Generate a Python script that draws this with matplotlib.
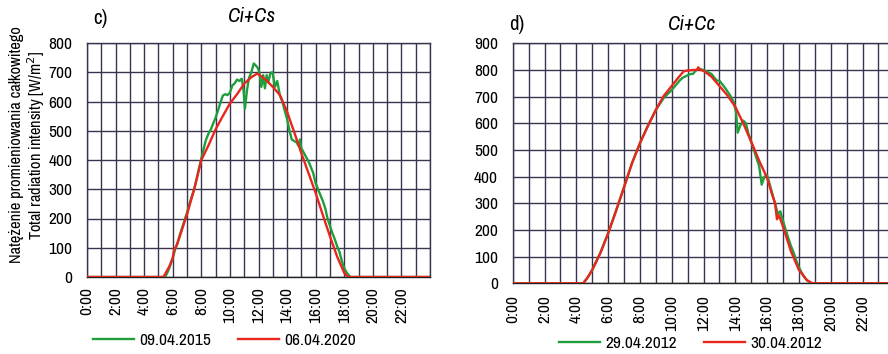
import matplotlib
matplotlib.use("Agg")
import matplotlib.pyplot as plt
from matplotlib import font_manager

# ---- data: total radiation intensity [W/m2] against time of day [h] ----
# panel c) Ci+Cs
c_title = "Ci+Cs"
c_label = "c)"
c_green_name = "09.04.2015"
c_green_t = [0.0, 5.47, 5.67, 5.83, 6.0, 6.17, 6.33, 6.5, 6.67, 6.83, 7.0, 7.17, 7.33, 7.5,
             7.67, 7.83, 8.0, 8.17, 8.33, 8.5, 8.67, 8.83, 9.0, 9.17, 9.33, 9.5, 9.67, 9.83,
             10.0, 10.17, 10.33, 10.5, 10.67, 10.83, 10.95, 11.05, 11.2, 11.33, 11.5, 11.67,
             11.83, 11.95, 12.05, 12.2, 12.33, 12.45, 12.57, 12.68, 12.84, 12.98, 13.15, 13.31,
             13.5, 13.67, 13.83, 14.0, 14.17, 14.33, 14.5, 14.67, 14.8, 14.9, 15.0, 15.17,
             15.33, 15.5, 15.67, 15.83, 16.0, 16.17, 16.33, 16.5, 16.67, 16.83, 17.0, 17.17,
             17.33, 17.5, 17.67, 17.83, 18.0, 18.17, 18.33, 18.45, 24.0]
c_green_v = [0, 0, 20, 40, 65, 95, 115, 145, 170, 195, 220, 250, 275, 300,
             335, 370, 405, 440, 470, 490, 505, 525, 545, 570, 595, 620, 625, 622,
             630, 655, 662, 675, 670, 678, 640, 575, 640, 680, 700, 730,
             722, 715, 700, 650, 690, 645, 690, 665, 698, 700, 650, 670,
             620, 600, 570, 540, 500, 470, 465, 460, 448, 470, 440, 425,
             410, 395, 375, 355, 320, 300, 280, 260, 235, 200, 175, 150,
             130, 105, 85, 55, 30, 15, 5, 0, 0]
c_red_name = "06.04.2020"
c_red_t = [0.0, 5.35, 5.75, 6.0, 6.1, 6.25, 6.5, 7.0, 7.5, 8.0, 8.5, 9.0, 9.5, 10.0, 10.5,
           11.0, 11.5, 11.9, 12.0, 12.5, 13.0, 13.5, 14.0, 14.5, 15.0, 15.5, 16.0, 16.5,
           17.0, 17.5, 18.0, 18.27, 24.0]
c_red_v = [0, 0, 35, 65, 95, 105, 140, 215, 300, 400, 450, 505, 550, 593, 625,
           661, 683, 695, 693, 675, 650, 622, 565, 495, 423, 355, 287, 212,
           139, 70, 14, 0, 0]

# panel d) Ci+Cc
d_title = "Ci+Cc"
d_label = "d)"
d_green_name = "29.04.2012"
d_green_t = [0.0, 4.44, 4.75, 5.0, 5.5, 6.0, 6.5, 7.0, 7.5, 8.0, 8.5, 9.0, 9.5, 10.0, 10.5,
             10.67, 10.83, 11.0, 11.17, 11.33, 11.5, 11.67, 12.0, 12.5, 12.83, 13.0, 13.33,
             13.67, 13.9, 14.05, 14.15, 14.3, 14.5, 14.67, 14.83, 15.0, 15.17, 15.33, 15.5,
             15.66, 15.83, 16.0, 16.17, 16.33, 16.5, 16.67, 16.83, 17.0, 17.17, 17.33, 17.5,
             17.67, 17.83, 18.0, 18.17, 18.33, 18.5, 18.67, 18.85, 24.0]
d_green_v = [0, 0, 25, 50, 112, 187, 272, 360, 450, 525, 590, 650, 695, 725, 760,
             770, 775, 780, 785, 785, 797, 805, 800, 785, 760, 760, 735,
             705, 680, 640, 565, 590, 610, 600, 560, 530, 500, 470, 440,
             370, 400, 405, 370, 335, 300, 260, 270, 235, 200, 170, 140,
             115, 85, 60, 40, 25, 12, 4, 0, 0]
d_red_name = "30.04.2012"
d_red_t = [0.0, 4.44, 4.75, 5.0, 5.5, 6.0, 6.5, 7.0, 7.5, 8.0, 8.5, 9.0, 9.5, 10.0, 10.4,
           10.75, 11.0, 11.33, 11.6, 11.67, 11.8, 12.0, 12.5, 13.0, 13.5, 14.0, 14.5,
           15.0, 15.5, 16.0, 16.33, 16.5, 16.62, 16.75, 17.0, 17.5, 18.0, 18.5, 18.85, 24.0]
d_red_v = [0, 0, 25, 50, 112, 187, 272, 360, 450, 525, 590, 650, 703, 740, 770,
           795, 798, 800, 800, 810, 800, 797, 775, 740, 705, 662, 600,
           531, 460, 395, 330, 300, 240, 255, 212, 120, 50, 12, 0, 0]

hour_ticks = list(range(0, 24, 2))
hour_labels = [f"{h}:00" for h in hour_ticks]

# ---- style ----
names = sorted({f.name for f in font_manager.fontManager.ttflist})
narrow = [n for n in names if "Narrow" in n or "Condensed" in n]
if narrow:
    base_font = narrow[0]
    FS, FS_Y, FS_T = 12.5, 11.8, 15
else:
    base_font = "Liberation Sans"
    FS, FS_Y, FS_T = 10, 9.6, 12.5
plt.rcParams["font.family"] = [base_font, "DejaVu Sans"]

GREEN = "#1e9e3c"
RED = "#e8261e"
GRID = "#3a3450"

W, H = 888, 354
fig = plt.figure(figsize=(W / 100, H / 100), dpi=100)


def setup(ax, ymax, xpad, ypad):
    ax.set_xlim(0, 24)
    ax.set_ylim(0, ymax)
    ax.set_yticks(range(0, ymax + 1, 100))
    ax.set_xticks(hour_ticks)
    ax.set_xticklabels(hour_labels, rotation=90, fontsize=FS)
    ax.set_xticks(range(0, 25), minor=True)
    ax.grid(True, which="major", color=GRID, linewidth=1.0)
    ax.grid(True, which="minor", axis="x", color=GRID, linewidth=1.0)
    ax.set_axisbelow(True)
    ax.tick_params(axis="both", which="both", length=0, labelsize=FS)
    ax.tick_params(axis="x", pad=xpad)
    ax.tick_params(axis="y", pad=ypad)
    for s in ax.spines.values():
        s.set_color(GRID)
        s.set_linewidth(1.0)
    ax.spines["bottom"].set_color("#222222")


fs_px = FS * 100 / 72
legend_kw = dict(loc="center", ncol=2, frameon=False, fontsize=FS,
                 handlelength=41 / fs_px, handletextpad=5 / fs_px, columnspacing=27 / fs_px,
                 borderpad=0, borderaxespad=0)

# panel c
ax1 = fig.add_axes([87 / W, 1 - 277 / H, 343 / W, 234 / H])
setup(ax1, 800, 7.5, 10.5)
g1, = ax1.plot(c_green_t, c_green_v, color=GREEN, lw=1.7, label=c_green_name, zorder=3)
r1, = ax1.plot(c_red_t, c_red_v, color=RED, lw=1.7, label=c_red_name, zorder=4)
ax1.set_ylabel("Natężenie promieniowania całkowitego\nTotal radiation intensity [W/m$^2$]",
               fontsize=FS_Y, linespacing=1.05)
ax1.yaxis.set_label_coords(-0.117, 0.564)
fig.text(100 / W, 1 - 18 / H, c_label, fontsize=FS_T, ha="center", va="center")
fig.text(252 / W, 1 - 17 / H, c_title, fontsize=FS_T, style="italic", ha="center", va="center")
ax1.legend(handles=[g1, r1], bbox_to_anchor=(224.5 / W, 1 - 340 / H),
           bbox_transform=fig.transFigure, **legend_kw)

# panel d
ax2 = fig.add_axes([512.7 / W, 1 - 283.3 / H, 381.6 / W, 240 / H])
setup(ax2, 900, 8.5, 10.5)
g2, = ax2.plot(d_green_t, d_green_v, color=GREEN, lw=1.7, label=d_green_name, zorder=3)
r2, = ax2.plot(d_red_t, d_red_v, color=RED, lw=1.7, label=d_red_name, zorder=4)
fig.text(517 / W, 1 - 25 / H, d_label, fontsize=FS_T, ha="center", va="center")
fig.text(692 / W, 1 - 24 / H, d_title, fontsize=FS_T, style="italic", ha="center", va="center")
ax2.legend(handles=[g2, r2], bbox_to_anchor=(690.5 / W, 1 - 343 / H),
           bbox_transform=fig.transFigure, **legend_kw)

fig.savefig("out.png", dpi=100)
